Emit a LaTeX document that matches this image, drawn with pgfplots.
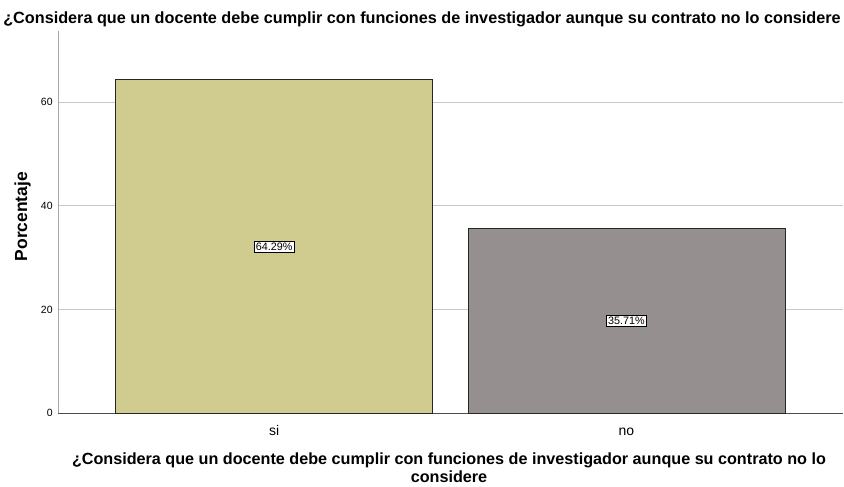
\documentclass[border=0pt]{standalone}
\usepackage{pgfplots}
\pgfplotsset{compat=1.18}
\usepackage{fontspec}
\setmainfont{Liberation Sans}
\definecolor{barsi}{RGB}{208,203,143}
\definecolor{barno}{RGB}{149,144,143}
\definecolor{gridc}{RGB}{200,200,200}
\begin{document}
\begin{tikzpicture}
\begin{axis}[
    scale only axis,
    width=786pt, height=383pt,
    at={(0,0)}, anchor=south west,
    xmin=-0.613, xmax=1.614, ymin=0, ymax=73.7,
    axis x line=bottom, axis y line=left,
    axis line style={-, gray!70},
    x axis line style={black!70},
    xtick={0,1}, xticklabels={si,no},
    ytick={0,20,40,60},
    major tick length=0pt,
    ymajorgrids, grid style={gridc, line width=0.8pt},
    xticklabel style={font=\fontsize{14}{16}\selectfont, anchor=base, yshift=-22pt},
    yticklabel style={font=\fontsize{10.5}{12}\selectfont, xshift=-2pt},
    /pgf/number format/assume math mode=true,
    clip=false,
  ]
\addplot[ybar, bar width=0.9, fill=barsi, draw=black!85, line width=0.7pt]
  coordinates {(0,64.29)};
\addplot[ybar, bar width=0.9, fill=barno, draw=black!85, line width=0.7pt]
  coordinates {(1,35.71)};
% value labels at half bar height
\addplot[draw=none, mark=none, point meta=explicit symbolic,
  nodes near coords, nodes near coords align={center},
  nodes near coords style={font=\fontsize{10.8}{12}\selectfont, fill=white, draw=black,
      inner sep=1.8pt, anchor=center, line width=0.6pt}]
  coordinates {(0,32.145) [64.29\%] (1,17.855) [35.71\%]};
\end{axis}
\node[font=\fontsize{16.25}{18}\selectfont\bfseries, anchor=base] at (364.5pt,390pt)
  {¿Considera que un docente debe cumplir con funciones de investigador aunque su contrato no lo considere};
\node[font=\fontsize{16.2}{18}\selectfont\bfseries, anchor=base] at (391.5pt,-51pt)
  {¿Considera que un docente debe cumplir con funciones de investigador aunque su contrato no lo};
\node[font=\fontsize{16.2}{18}\selectfont\bfseries, anchor=base] at (391.5pt,-69pt)
  {considere};
\node[font=\fontsize{17.5}{19}\selectfont\bfseries, rotate=90, anchor=base] at (-31pt,197pt)
  {Porcentaje};
\useasboundingbox (-58pt,-73pt) rectangle (786pt,414pt);
\end{tikzpicture}
\end{document}
